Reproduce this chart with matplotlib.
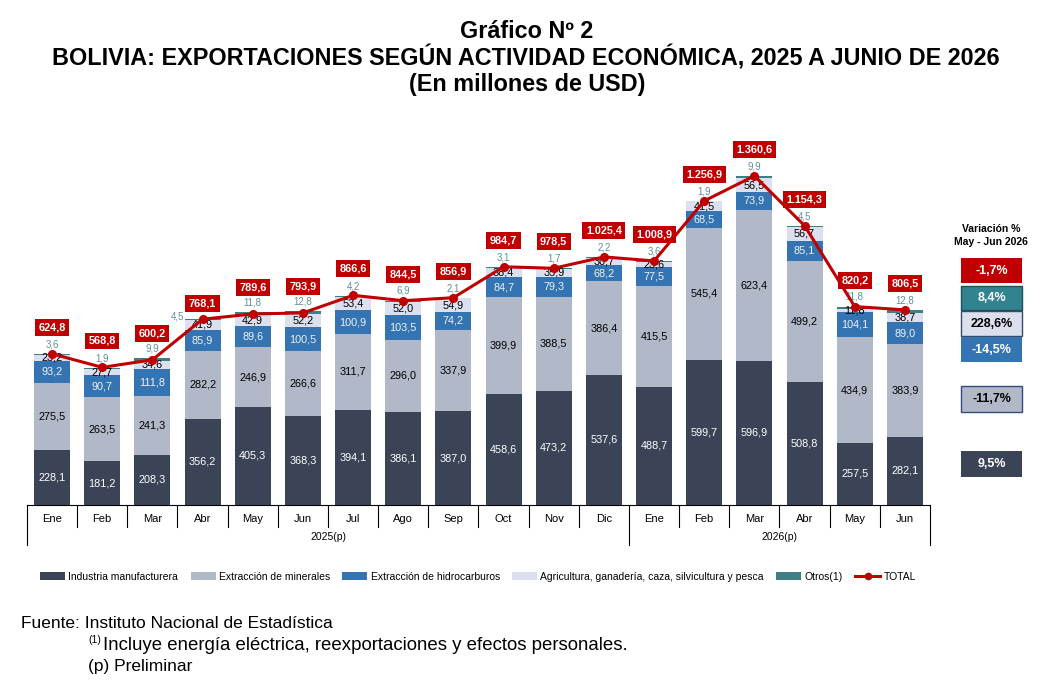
import matplotlib
matplotlib.use("Agg")
import matplotlib.pyplot as plt
from matplotlib.patches import Rectangle, Patch
from matplotlib.lines import Line2D
import numpy as np

plt.rcParams['font.family'] = ['Liberation Sans', 'DejaVu Sans']

months = ["Ene", "Feb", "Mar", "Abr", "May", "Jun", "Jul", "Ago", "Sep", "Oct", "Nov", "Dic",
          "Ene", "Feb", "Mar", "Abr", "May", "Jun"]
years = ["2025(p)", "2026(p)"]
industria = [228.1, 181.2, 208.3, 356.2, 405.3, 368.3, 394.1, 386.1, 387.0, 458.6, 473.2, 537.6,
             488.7, 599.7, 596.9, 508.8, 257.5, 282.1]
minerales = [275.5, 263.5, 241.3, 282.2, 246.9, 266.6, 311.7, 296.0, 337.9, 399.9, 388.5, 386.4,
             415.5, 545.4, 623.4, 499.2, 434.9, 383.9]
hidrocarburos = [93.2, 90.7, 111.8, 85.9, 89.6, 100.5, 100.9, 103.5, 74.2, 84.7, 79.3, 68.2,
                 77.5, 68.5, 73.9, 85.1, 104.1, 89.0]
agricultura = [23.2, 27.7, 34.6, 41.9, 42.9, 52.2, 53.4, 52.0, 54.9, 38.4, 35.9, 30.7,
               23.6, 41.5, 56.5, 56.7, 11.8, 38.7]
otros = [3.6, 1.9, 9.9, 4.5, 11.8, 12.8, 4.2, 6.9, 2.1, 3.1, 1.7, 2.2,
         3.6, 1.9, 9.9, 4.5, 11.8, 12.8]
total = [624.8, 568.8, 600.2, 768.1, 789.6, 793.9, 866.6, 844.5, 856.9, 984.7, 978.5, 1025.4,
         1008.9, 1256.9, 1360.6, 1154.3, 820.2, 806.5]
variacion = ["-1,7%", "8,4%", "228,6%", "-14,5%", "-11,7%", "9,5%"]

series_names = ["Industria manufacturera", "Extracción de minerales", "Extracción de hidrocarburos",
                "Agricultura, ganadería, caza, silvicultura y pesca", "Otros(1)"]
C_IND = "#3A4456"
C_MIN = "#B1B9C8"
C_HID = "#3474B2"
C_AGR = "#DCE0EE"
C_OTR = "#3F7F86"
C_RED = "#C00000"


def fmt(v):
    s = f"{v:,.1f}"
    return s.replace(",", "X").replace(".", ",").replace("X", ".")


W, H = 1043, 689
fig = plt.figure(figsize=(W / 100, H / 100), dpi=100)
ax = fig.add_axes([27 / W, 1 - 505 / H, (930 - 27) / W, (505 - 130) / H])

x = np.arange(len(months))
bw = 0.72
vals = [industria, minerales, hidrocarburos, agricultura, otros]
cols = [C_IND, C_MIN, C_HID, C_AGR, C_OTR]
bottom = np.zeros(len(months))
bottoms = []
for v, c in zip(vals, cols):
    bottoms.append(bottom.copy())
    ax.bar(x, v, bw, bottom=bottom, color=c, edgecolor="none", zorder=2)
    bottom = bottom + np.array(v)

ax.set_xlim(-0.5, len(months) - 0.5)
ax.set_ylim(0, 1550)
for s in ["top", "right", "left"]:
    ax.spines[s].set_visible(False)
ax.spines["bottom"].set_color("black")
ax.spines["bottom"].set_linewidth(0.8)
ax.set_yticks([])
ax.set_xticks([])

# segment labels
fs = 7.8
otros_offset = {3: (-18, 1.5)}
for i in range(len(months)):
    ax.text(x[i], bottoms[0][i] + industria[i] / 2, fmt(industria[i]), ha="center", va="center",
            fontsize=fs, color="white", zorder=4)
    ax.text(x[i], bottoms[1][i] + minerales[i] / 2, fmt(minerales[i]), ha="center", va="center",
            fontsize=fs, color="black", zorder=4)
    ax.text(x[i], bottoms[2][i] + hidrocarburos[i] / 2, fmt(hidrocarburos[i]), ha="center", va="center",
            fontsize=fs, color="#EEF2F8", zorder=4)
    ax.text(x[i], bottoms[3][i] + agricultura[i] / 2, fmt(agricultura[i]), ha="center", va="center",
            fontsize=fs, color="black", zorder=4)
    ax.annotate(fmt(otros[i]), (x[i], bottoms[4][i] + otros[i]), xytext=otros_offset.get(i, (0, 7)),
                textcoords="offset points", ha="center", va="center", fontsize=7,
                color="#5F8F97", zorder=4)

# total line
ax.plot(x, total, color=C_RED, lw=2.2, marker="o", ms=5.5, zorder=5)
label_offset = {3: 11}
for i in range(len(months)):
    ax.annotate(fmt(total[i]), (x[i], total[i]), xytext=(0, label_offset.get(i, 19)),
                textcoords="offset points", ha="center", va="center", fontsize=7.8,
                fontweight="bold", color="white", zorder=6,
                bbox=dict(boxstyle="square,pad=0.32", fc=C_RED, ec="none"))

# category axis
tr = ax.get_xaxis_transform()
hpx = 505 - 130
for i, m in enumerate(months):
    ax.text(x[i], -14 / hpx, m, transform=tr, ha="center", va="center", fontsize=8)
for b in np.arange(-0.5, len(months), 1.0):
    long = b in (-0.5, 11.5, len(months) - 0.5)
    ax.plot([b, b], [0, -(40 if long else 22) / hpx], transform=tr, color="black", lw=0.8,
            clip_on=False)
ax.text(5.5, -32 / hpx, years[0], transform=tr, ha="center", va="center", fontsize=7.5)
ax.text(14.5, -32 / hpx, years[1], transform=tr, ha="center", va="center", fontsize=7.5)

# legend
handles = [Patch(facecolor=c, edgecolor="none") for c in cols]
handles.append(Line2D([0], [0], color=C_RED, lw=2.2, marker="o", ms=4.5))
fig.legend(handles, series_names + ["TOTAL"], loc="center", bbox_to_anchor=(478 / W, 1 - 577 / H),
           ncol=6, frameon=False, fontsize=7.5, handlelength=2.4, handleheight=0.8,
           columnspacing=1.2, handletextpad=0.3)

# titles
fig.text(527 / W, 1 - 31 / H, "Gráfico Nº 2", ha="center", va="center", fontsize=16.8, fontweight="bold")
fig.text(526 / W, 1 - 58 / H, "BOLIVIA: EXPORTACIONES SEGÚN ACTIVIDAD ECONÓMICA, 2025 A JUNIO DE 2026",
         ha="center", va="center", fontsize=16.8, fontweight="bold")
fig.text(527 / W, 1 - 84 / H, "(En millones de USD)", ha="center", va="center", fontsize=16.8,
         fontweight="bold")

# variation panel
fig.text(991 / W, 1 - 229 / H, "Variación %", ha="center", va="center", fontsize=7.5, fontweight="bold")
fig.text(991 / W, 1 - 242 / H, "May - Jun 2026", ha="center", va="center", fontsize=7.5, fontweight="bold")
boxes = [(258, 283, C_RED, "none", "white"),
         (286, 310, "#31848F", "#1F4E5A", "white"),
         (311, 336, C_AGR, "#3A4A6A", "black"),
         (337, 362, C_HID, "none", "white"),
         (386, 412, C_MIN, "#2F4A80", "black"),
         (451, 477, C_IND, "none", "white")]
for (y0, y1, fc, ec, tc), lab in zip(boxes, variacion):
    fig.patches.append(Rectangle((961 / W, 1 - y1 / H), 61 / W, (y1 - y0) / H, transform=fig.transFigure,
                                 facecolor=fc, edgecolor=ec, lw=1.0))
    fig.text(991.5 / W, 1 - (y0 + y1) / 2 / H, lab, ha="center", va="center", fontsize=9,
             fontweight="bold", color=tc)

# footer
fig.text(21 / W, 1 - 624 / H, "Fuente: Instituto Nacional de Estadística", ha="left", va="center",
         fontsize=12.5)
fig.text(88 / W, 1 - 640 / H, "(1)", ha="left", va="center", fontsize=7.5)
fig.text(103 / W, 1 - 645 / H, "Incluye energía eléctrica, reexportaciones y efectos personales.",
         ha="left", va="center", fontsize=13.4)
fig.text(88 / W, 1 - 666 / H, "(p) Preliminar", ha="left", va="center", fontsize=12.5)

fig.savefig("out.png", dpi=100, facecolor="white")
